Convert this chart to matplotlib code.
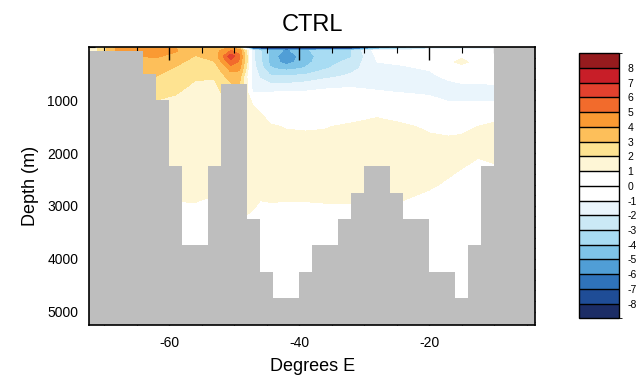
import numpy as np
import matplotlib
matplotlib.use("Agg")
import matplotlib.pyplot as plt
from matplotlib.colors import ListedColormap, BoundaryNorm
from matplotlib.ticker import MultipleLocator

plt.rcParams['font.family'] = ['Liberation Sans', 'DejaVu Sans']
plt.rcParams['axes.unicode_minus'] = False

# grid nodes of the streamfunction field (Sv)
lon = [-73, -68, -65, -62, -59, -56, -53, -50.5, -49.2, -48, -47.2, -46, -44.5,
       -42, -39, -36, -32, -28, -24, -20, -17, -15, -12.5, -10, -3]
depth = [0, 25, 60, 170, 280, 400, 550, 700, 850, 1000, 1250, 1500, 1800,
         2200, 2600, 3000, 3500, 4500, 5250]

# one depth profile per longitude node (same order as depth)
psi_cols = [
    [0.5, 0.5, 0.5, 0.5, 0.5, 0.5, 0.5, 0.5, 0.5, 0.5, 0.5, 0.5, 0.5, 0.5, 0.5, 0.5, 0.5, 0.5, 0.5],
    [2.5, 4.2, 4.2, 3.5, 3.0, 3.0, 2.8, 2.5, 2.2, 2.0, 1.8, 1.7, 1.6, 1.5, 1.2, 0.9, 0.7, 0.5, 0.4],
    [3.0, 4.4, 4.5, 4.0, 3.7, 3.5, 3.2, 3.0, 2.6, 2.2, 1.9, 1.7, 1.6, 1.5, 1.2, 0.9, 0.7, 0.5, 0.4],
    [3.2, 4.4, 4.5, 4.1, 3.6, 3.4, 3.0, 2.6, 2.3, 2.0, 1.8, 1.7, 1.6, 1.5, 1.2, 0.9, 0.7, 0.5, 0.4],
    [3.0, 4.0, 4.1, 3.7, 3.2, 2.9, 2.6, 2.3, 2.05, 1.9, 1.7, 1.6, 1.5, 1.4, 1.2, 0.95, 0.7, 0.5, 0.4],
    [2.8, 3.2, 3.2, 2.95, 2.7, 2.4, 2.1, 1.9, 1.8, 1.7, 1.6, 1.5, 1.4, 1.3, 1.15, 0.97, 0.7, 0.5, 0.4],
    [3.0, 3.5, 3.6, 3.3, 2.95, 2.5, 2.1, 1.85, 1.7, 1.6, 1.5, 1.45, 1.4, 1.3, 1.1, 0.9, 0.7, 0.5, 0.4],
    [3.0, 4.2, 5.0, 6.6, 5.6, 4.4, 3.5, 2.9, 2.5, 2.0, 1.7, 1.6, 1.5, 1.4, 1.2, 1.0, 0.7, 0.5, 0.4],
    [2.5, 3.6, 4.6, 5.2, 4.8, 4.2, 3.5, 3.0, 2.5, 2.1, 1.8, 1.6, 1.5, 1.4, 1.2, 1.05, 0.75, 0.5, 0.4],
    [-8.0, -2.0, 1.6, 2.0, 2.0, 1.6, 0.9, 1.1, 1.2, 1.25, 1.3, 1.35, 1.4, 1.35, 1.2, 1.1, 0.8, 0.5, 0.4],
    [-9.5, -7.0, -1.6, -1.7, -1.6, -1.5, -1.4, -1.3, -1.1, 0.9, 1.2, 1.3, 1.4, 1.35, 1.2, 1.05, 0.75, 0.5, 0.4],
    [-9.5, -8.0, -2.9, -2.8, -2.75, -2.5, -2.1, -1.7, -1.05, -0.5, 1.05, 1.2, 1.35, 1.3, 1.15, 0.95, 0.7, 0.5, 0.4],
    [-10, -8.5, -4.2, -4.3, -4.2, -3.9, -2.8, -1.9, -1.0, -0.6, 0.6, 1.1, 1.3, 1.3, 1.15, 0.97, 0.7, 0.5, 0.4],
    [-10, -8.5, -5.2, -5.8, -5.5, -4.3, -2.9, -1.9, -0.9, -0.5, 0.3, 0.95, 1.25, 1.3, 1.2, 0.95, 0.7, 0.5, 0.4],
    [-10, -8.5, -4.2, -4.4, -4.3, -3.9, -2.7, -1.7, -0.9, -0.5, 0.3, 0.9, 1.25, 1.3, 1.2, 0.95, 0.7, 0.5, 0.4],
    [-10, -8.5, -3.3, -3.5, -3.4, -3.1, -2.3, -1.3, -0.8, -0.4, 0.4, 0.95, 1.25, 1.3, 1.2, 0.97, 0.7, 0.5, 0.4],
    [-9.5, -8.2, -3.0, -3.1, -2.7, -2.3, -1.8, -1.2, -0.7, -0.3, 0.6, 1.15, 1.3, 1.3, 1.2, 0.97, 0.7, 0.5, 0.4],
    [-7.0, -5.0, -0.5, -0.8, -1.0, -1.3, -1.4, -1.3, -0.9, -0.4, 0.9, 1.2, 1.3, 1.3, 1.2, 1.0, 0.75, 0.5, 0.4],
    [-5.0, -3.5, -0.4, -0.6, -0.85, -1.15, -1.35, -1.3, -1.05, -0.5, 0.7, 1.1, 1.25, 1.3, 1.15, 0.95, 0.75, 0.5, 0.4],
    [-3.5, -2.3, -0.2, -0.3, -0.6, -0.9, -1.3, -1.4, -1.2, -0.7, 0.3, 0.9, 1.15, 1.2, 1.05, 0.85, 0.65, 0.5, 0.4],
    [-2.8, -1.8, 0.1, 0.4, 0.85, 0.3, -0.7, -1.3, -1.4, -1.1, -0.1, 0.85, 1.1, 1.1, 0.95, 0.75, 0.6, 0.5, 0.4],
    [-2.5, -1.6, 0.3, 0.9, 1.2, 0.6, -0.3, -1.1, -1.3, -1.1, -0.2, 0.85, 1.15, 1.05, 0.85, 0.7, 0.6, 0.5, 0.4],
    [-2.2, -1.4, 0.1, 0.4, 0.7, 0.2, -0.5, -1.05, -1.3, -1.1, 0.2, 1.0, 1.15, 0.95, 0.8, 0.7, 0.6, 0.5, 0.4],
    [-2.0, -1.3, 0.0, 0.2, 0.3, 0.1, -0.5, -1.0, -1.3, -1.15, 0.7, 1.15, 1.2, 1.0, 0.8, 0.7, 0.6, 0.5, 0.4],
    [-2.0, -1.3, 0.0, 0.2, 0.3, 0.1, -0.5, -1.0, -1.3, -1.15, 0.7, 1.15, 1.2, 1.0, 0.8, 0.7, 0.6, 0.5, 0.4],
]

# bathymetry: 2-degree columns, bottom depth (m), 0 = land
bathy_lon = [-73, -71, -69, -67, -65, -63, -61, -59, -57, -55, -53, -51, -49, -47,
             -45, -43, -41, -39, -37, -35, -33, -31, -29, -27, -25, -23, -21, -19,
             -17, -15, -13, -11, -9, -7, -5, -3]
bathy_depth = [75, 75, 75, 75, 75, 500, 1000, 2250, 3750, 3750, 2250, 700, 700, 3250,
               4250, 4750, 4750, 4250, 3750, 3750, 3250, 2750, 2250, 2250, 2750, 3250,
               3250, 4250, 4250, 4750, 3750, 2250, 0, 0, 0, 0]

levels = list(range(-8, 9))
colors = ['#1c2d66', '#1f4d97', '#2f73bb', '#509ed6', '#7ec4e8', '#a8dcf3',
          '#cbe9f6', '#eaf5fc', '#ffffff', '#ffffff', '#fef6d6', '#fee391',
          '#fdbf5a', '#fa9a33', '#f26b2c', '#e3412e', '#c81e28', '#961b1e']

fig = plt.figure(figsize=(6.41, 3.85), dpi=100)
ax = fig.add_axes([0.1393, 0.1558, 0.6953, 0.7213])

psi = np.array(psi_cols).T
bounds = [-100] + levels + [100]
cmap = ListedColormap(colors)
norm = BoundaryNorm(bounds, cmap.N)
ax.contourf(lon, depth, psi, levels=bounds, colors=colors)

bottom_edge = 5400
heights = [bottom_edge - d for d in bathy_depth]
ax.bar(bathy_lon, heights, bottom=bathy_depth, width=2.0, color='#bebebe',
       edgecolor='none', zorder=3)

ax.set_xlim(-72.3, -3.7)
ax.set_ylim(5255, 0)
ax.set_xticks([-60, -40, -20])
ax.xaxis.set_minor_locator(MultipleLocator(5))
ax.set_yticks([1000, 2000, 3000, 4000, 5000])
ax.yaxis.set_minor_locator(MultipleLocator(200))
ax.tick_params(which='both', direction='in', top=True, right=True, zorder=5)
ax.tick_params(which='major', length=9, width=1.0, labelsize=10, pad=8)
ax.tick_params(which='minor', length=4.5, width=0.8)
for s in ax.spines.values():
    s.set_linewidth(1.2)
    s.set_zorder(6)

ax.set_xlabel('Degrees E', fontsize=13, labelpad=6)
ax.set_ylabel('Depth (m)', fontsize=13, labelpad=6)
ax.set_title('CTRL', fontsize=17, pad=12)

cax = fig.add_axes([0.9037, 0.1732, 0.0624, 0.6883])
sm = matplotlib.cm.ScalarMappable(norm=BoundaryNorm(list(range(-9, 10)), cmap.N), cmap=cmap)
cb = fig.colorbar(sm, cax=cax, ticks=levels, drawedges=True)
cb.outline.set_linewidth(1.0)
cb.dividers.set_color('black')
cb.dividers.set_linewidth(1.0)
cb.ax.tick_params(length=0, labelsize=7.5, pad=6)

fig.savefig('out.png', dpi=100)
